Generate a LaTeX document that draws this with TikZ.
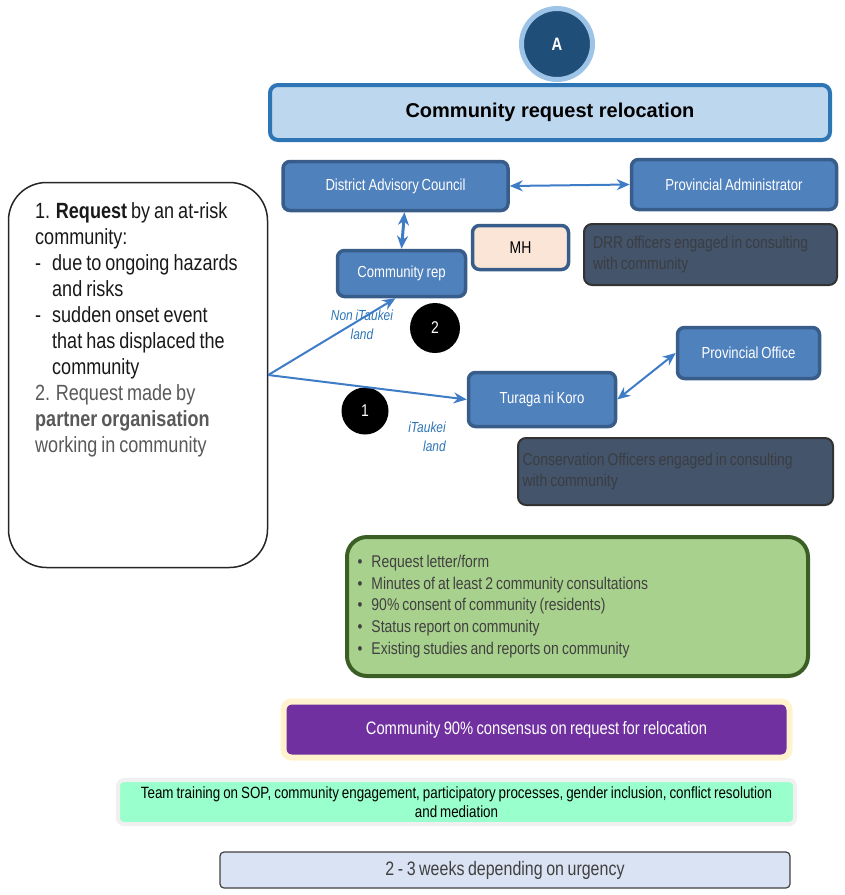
\documentclass[tikz,border=0pt]{standalone}
\usepackage{fontspec}
\setmainfont{Liberation Sans}
\newfontfamily\narrowfont{Liberation Sans}[FakeStretch=0.82, WordSpace=0.8]
\usetikzlibrary{arrows.meta}

\definecolor{boxblue}{HTML}{4F81BD}
\definecolor{boxedge}{HTML}{385D8A}
\definecolor{arrowblue}{HTML}{3E7CC6}
\definecolor{titlefill}{HTML}{BDD7EE}
\definecolor{titleedge}{HTML}{2E75B6}
\definecolor{ringblue}{HTML}{9DC3E6}
\definecolor{darkblue}{HTML}{1F4E79}
\definecolor{slate}{HTML}{44546A}
\definecolor{slatetext}{HTML}{3A3D42}
\definecolor{peach}{HTML}{FBE5D6}
\definecolor{leafgreen}{HTML}{A9D18E}
\definecolor{leafedge}{HTML}{3B5E25}
\definecolor{plum}{HTML}{7030A0}
\definecolor{cream}{HTML}{FFF2CC}
\definecolor{mint}{HTML}{99FFCC}
\definecolor{paleblue}{HTML}{DAE3F3}
\definecolor{labelblue}{HTML}{2E75B6}
\definecolor{softgray}{HTML}{404040}

\newcommand\plainspaces{\spaceskip=0pt \xspaceskip=0pt }
\newcommand\bul{\makebox[14pt][l]{\textbullet}}

\tikzset{
  orgbox/.style={draw=boxedge, fill=boxblue, line width=3.5pt, rounded corners=7pt,
    text=white, font=\narrowfont\fontsize{16}{18}\selectfont, inner sep=0pt},
  notebox/.style={draw=black!80, fill=slate, line width=2pt, rounded corners=8pt,
    text=slatetext, font=\narrowfont\fontsize{17}{21}\selectfont, align=left, inner sep=0pt},
  numdot/.style={circle, fill=black, text=white, inner sep=0pt,
    font=\narrowfont\fontsize{17}{18}\selectfont},
  landlabel/.style={text=labelblue, inner sep=0pt,
    font=\narrowfont\fontsize{14.6}{19}\selectfont\itshape},
  link/.style={draw=arrowblue, line width=2pt, -{Stealth[length=13pt,width=11pt]}},
  twoway/.style={link, {Stealth[length=13pt,width=11pt]}-{Stealth[length=13pt,width=11pt]}},
}

\begin{document}
\begin{tikzpicture}[x=1pt,y=-1pt]
  \useasboundingbox (0,0) rectangle (845,895);

  % heading
  \node[circle, draw=ringblue, fill=darkblue, line width=5pt, minimum size=71pt,
    text=white, font=\narrowfont\fontsize{18}{20}\bfseries\selectfont] (markA) at (557,44) {A};
  \node[draw=titleedge, fill=titlefill, line width=4pt, rounded corners=8pt,
    minimum width=560pt, minimum height=55pt,
    font=\fontsize{20}{24}\bfseries\selectfont] (title) at (550,112.5) {Community request relocation};

  % who is involved
  \node[orgbox, minimum width=225pt, minimum height=49pt] (dac) at (395.5,186) {District Advisory Council};
  \node[orgbox, minimum width=205pt, minimum height=50pt] (padmin) at (734,184.5) {Provincial Administrator};
  \node[orgbox, minimum width=128pt, minimum height=46pt] (rep) at (401.5,273.5) {Community rep};
  \node[orgbox, fill=peach, text=black, font=\narrowfont\fontsize{17}{18}\selectfont,
    minimum width=96pt, minimum height=44pt] (mh) at (520.5,247.5) {MH};
  \node[notebox, minimum width=253pt, minimum height=61pt, text width=235pt] (drr) at (710.5,254.5)
    {\plainspaces DRR officers engaged in consulting\\with community};
  \node[orgbox, minimum width=142pt, minimum height=51pt] (poffice) at (748.5,353) {Provincial Office};
  \node[orgbox, minimum width=147pt, minimum height=54pt] (turaga) at (542,399.5) {Turaga ni Koro};
  \node[notebox, minimum width=315pt, minimum height=67pt, text width=306pt] (cons) at (675.5,471.5)
    {\plainspaces Conservation Officers engaged in consulting\\with community};

  % request box
  \node[draw=black!85, fill=white, line width=1.5pt, rounded corners=38pt,
    minimum width=259pt, minimum height=385pt] (ask) at (138,375) {};
  \node[anchor=north west, align=left, inner sep=0pt, text=black!90,
    font=\narrowfont\fontsize{22}{26}\selectfont] (asktext) at (35,202)
    {1. \textbf{Request} by an at-risk\\
     community:\\
     \makebox[17pt][l]{-}due to ongoing hazards\\
     \hspace*{17pt}and risks\\
     \makebox[17pt][l]{-}sudden onset event\\
     \hspace*{17pt}that has displaced the\\
     \hspace*{17pt}community\\
     \textcolor{black!65}{2. Request made by}\\
     \textcolor{black!65}{\textbf{partner organisation}}\\
     \textcolor{black!65}{working in community}};

  % land routes
  \node[numdot, minimum size=50pt] (two) at (435,328) {2};
  \node[numdot, minimum size=47pt] (one) at (365,411) {1};
  \node[landlabel, align=center] (nonland) at (362,324.5) {Non iTaukei\\land};
  \node[landlabel, align=right, anchor=east] (land) at (446,436.5) {iTaukei\\land};

  \draw[link] (ask.east) -- ([xshift=-6pt]rep.south);
  \draw[link] (ask.east) -- (turaga.west);
  \draw[twoway] (dac.east) -- (padmin.west);
  \draw[twoway, line width=3pt] ([xshift=9pt]dac.south) -- (rep.north);
  \draw[twoway] (turaga.east) -- (poffice.west);

  % documents and outcomes
  \node[draw=leafedge, fill=leafgreen, line width=4pt, rounded corners=20pt,
    minimum width=461pt, minimum height=139pt, text width=440pt, align=left,
    text=softgray, inner sep=0pt, font=\narrowfont\fontsize{17}{21.8}\selectfont] (docs) at (577.5,606.5)
    {\plainspaces
     \bul Request letter/form\\
     \bul Minutes of at least 2 community consultations\\
     \bul 90\% consent of community (residents)\\
     \bul Status report on community\\
     \bul Existing studies and reports on community};
  \node[draw=cream, fill=plum, line width=6pt, rounded corners=8pt,
    minimum width=506pt, minimum height=56pt, text=white,
    font=\narrowfont\fontsize{18}{20}\selectfont] (consensus) at (536.5,729.5)
    {Community 90\% consensus on request for relocation};
  \node[draw=black!6, fill=mint, line width=4pt, rounded corners=6pt,
    minimum width=677pt, minimum height=44pt, align=center,
    inner sep=0pt, font=\narrowfont\fontsize{16.3}{19}\selectfont] (training) at (456.5,802)
    {Team training on SOP, community engagement, participatory processes, gender inclusion, conflict resolution\\and mediation};
  \node[draw=black!75, fill=paleblue, line width=1.2pt, rounded corners=4pt,
    minimum width=570pt, minimum height=36pt, text=softgray,
    font=\narrowfont\fontsize{19.5}{21}\selectfont] (weeks) at (505,870)
    {2 - 3 weeks depending on urgency};
\end{tikzpicture}
\end{document}
